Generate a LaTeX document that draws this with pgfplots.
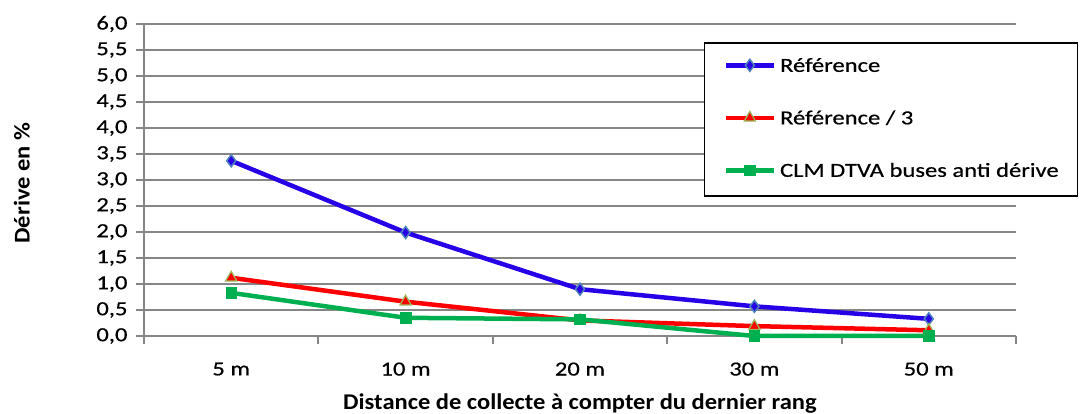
\documentclass[border=0pt]{standalone}
\usepackage{fontspec}
\setmainfont{Carlito}[FakeStretch=1.23, FakeBold=0.5]
\newfontfamily\titlefont{Carlito}[FakeStretch=1.09]
\usepackage{pgfplots}
\usepackage{pgfplotstable}
\pgfplotsset{compat=1.18}

\definecolor{gridgray}{RGB}{134,134,134}
\definecolor{refblue}{RGB}{38,0,230}
\definecolor{diamondblue}{RGB}{79,129,189}
\definecolor{refred}{RGB}{255,0,0}
\definecolor{olive}{RGB}{155,187,89}
\definecolor{clmgreen}{RGB}{0,176,80}

% derive (%) per distance: Reference, Reference/3, CLM DTVA
\pgfplotstableread{
x ref  ref3 clm
0 3.37 1.12 0.83
1 1.99 0.66 0.35
2 0.90 0.30 0.32
3 0.57 0.19 0.00
4 0.33 0.11 0.00
}\drift

\begin{document}
\begin{tikzpicture}
\useasboundingbox (0,0) rectangle (1082pt,414pt);
\begin{axis}[
    at={(144pt,78pt)}, anchor=south west,
    width=872pt, height=312pt, scale only axis,
    xmin=-0.5, xmax=4.5, ymin=0, ymax=6,
    xtick={-0.5,0.5,1.5,2.5,3.5,4.5},
    x tick label as interval,
    xticklabels={5 m,10 m,20 m,30 m,50 m},
    ytick={0,0.5,1,1.5,2,2.5,3,3.5,4,4.5,5,5.5,6},
    axis lines=left,
    axis line style={-, draw=gridgray, line width=2pt},
    ymajorgrids,
    grid style={draw=gridgray, line width=2pt},
    tick align=outside, major tick length=8pt,
    tick style={draw=gridgray, line width=2pt},
    tick label style={font=\fontsize{20}{24}\selectfont, text=black},
    xticklabel style={yshift=-15pt},
    yticklabel style={xshift=-5pt},
    /pgf/number format/.cd, fixed, fixed zerofill, precision=1, use comma, assume math mode=true,
    /pgfplots/.cd,
    xlabel={Distance de collecte à compter du dernier rang},
    ylabel={Dérive en \%},
    every axis x label/.style={at={(axis description cs:0.5,-0.216)}, anchor=center,
        font=\titlefont\bfseries\fontsize{22.5}{27}\selectfont},
    every axis y label/.style={at={(axis description cs:-0.14,0.49)}, rotate=90, anchor=center,
        font=\titlefont\bfseries\fontsize{22.5}{27}\selectfont},
    clip=false,
    legend image code/.code={
        \draw[mark repeat=2, mark phase=2, #1] plot coordinates {(0pt,1.5pt) (24pt,1.5pt) (48pt,1.5pt)};
    },
    legend cell align=left,
    legend style={at={(0.642,0.942)}, anchor=north west,
        draw=black, line width=1.5pt, fill=white,
        inner xsep=19pt, inner ysep=14pt,
        row sep=32.5pt, column sep=4pt,
        font=\fontsize{20}{24}\selectfont,
        nodes={inner sep=0pt, text height=15pt, text depth=5pt}},
]
\addplot[refblue, line width=4.5pt, mark=diamond*, mark size=6pt,
    mark options={fill=refblue, draw=diamondblue, line width=1.5pt}]
    table[x=x, y=ref] {\drift};
\addlegendentry{Référence}
\addplot[refred, line width=4.5pt, mark=triangle*, mark size=6.5pt,
    mark options={fill=refred, draw=olive, line width=1.2pt}]
    table[x=x, y=ref3] {\drift};
\addlegendentry{Référence / 3}
\addplot[clmgreen, line width=4.5pt, mark=square*, mark size=5.3pt,
    mark options={fill=clmgreen, draw=clmgreen, line width=0.5pt}]
    table[x=x, y=clm] {\drift};
\addlegendentry{CLM DTVA buses anti dérive}
\end{axis}
\end{tikzpicture}
\end{document}
